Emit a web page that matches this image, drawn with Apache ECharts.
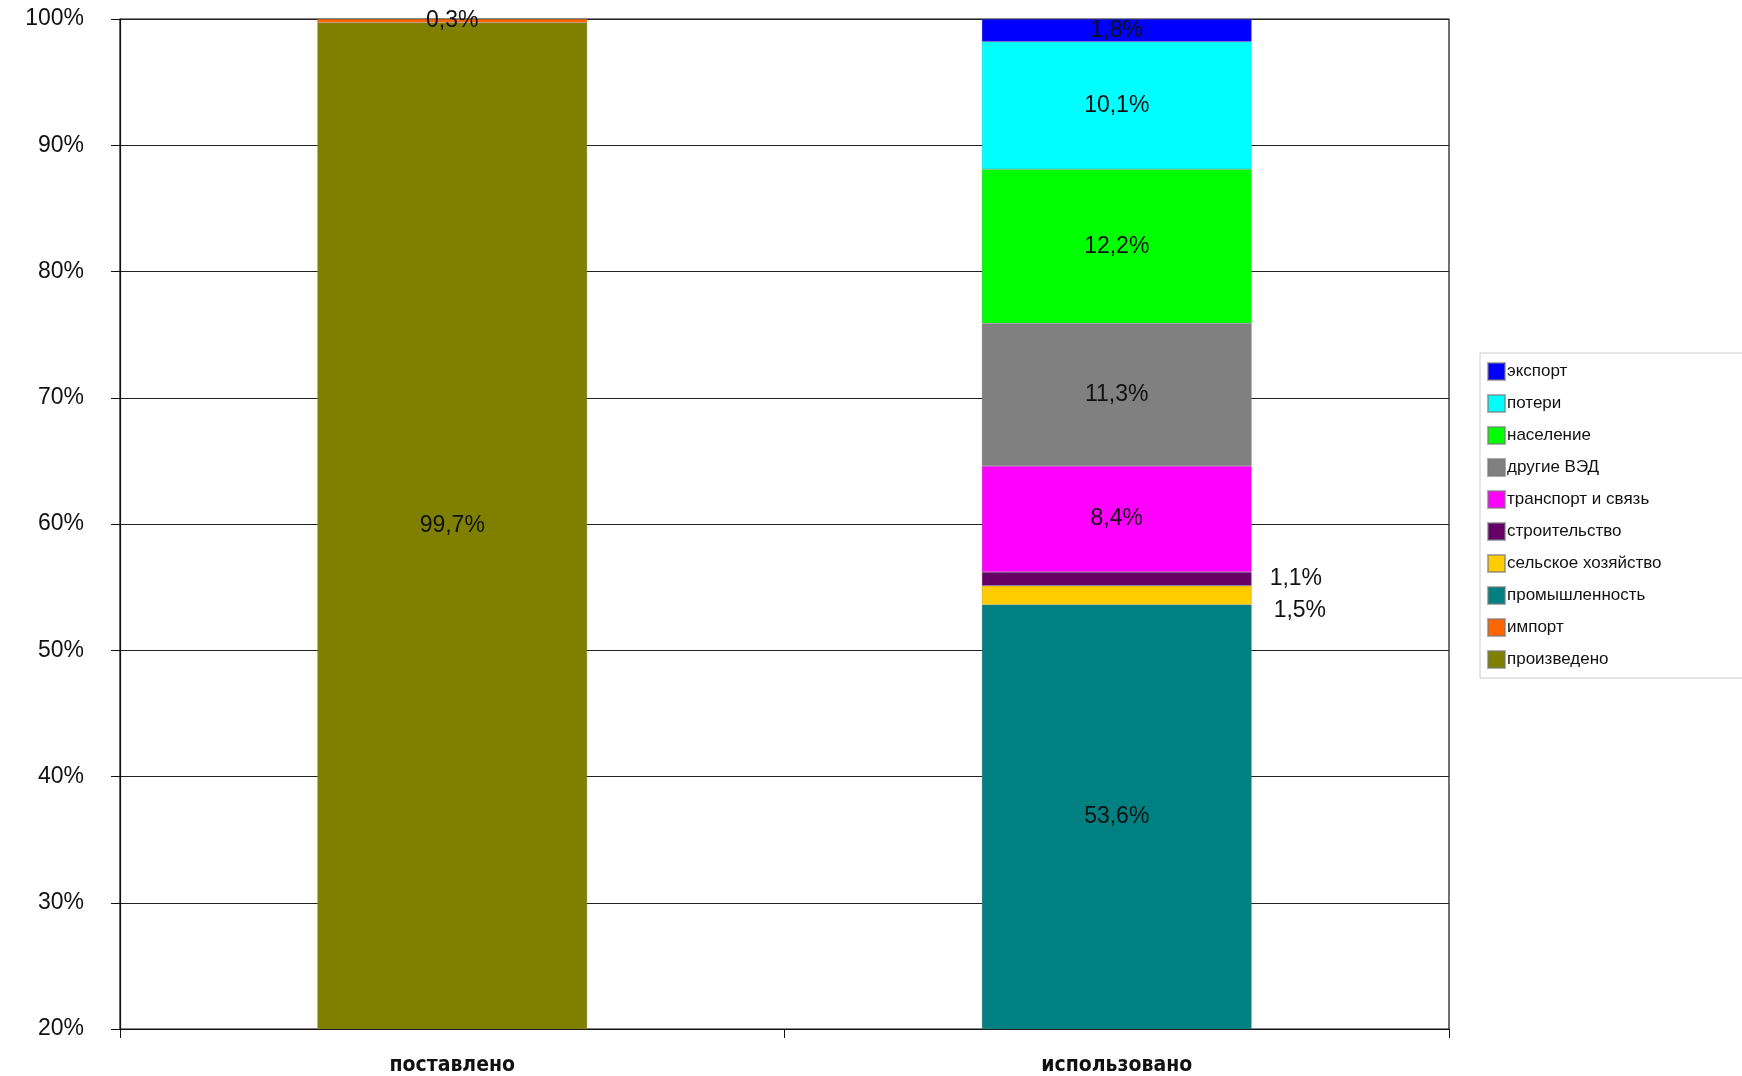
<!DOCTYPE html>
<html>
<head>
<meta charset="utf-8">
<script src="https://cdn.jsdelivr.net/npm/echarts@6/dist/echarts.min.js"></script>
<style>html,body{margin:0;padding:0;background:#fff}#c{width:1742px;height:1076px}</style>
</head>
<body>
<div id="c"></div>
<script>
const categories = ['поставлено', 'использовано'];
const yTicks = [20, 30, 40, 50, 60, 70, 80, 90, 100];

const produced     = [99.7, null];
const imported     = [0.3, null];
const industry     = [null, 53.6];
const agriculture  = [null, 1.5];
const construction = [null, 1.1];
const transport    = [null, 8.4];
const otherVED     = [null, 11.3];
const population   = [null, 12.2];
const losses       = [null, 10.1];
const exported     = [null, 1.8];

const legendOrder = ['экспорт', 'потери', 'население', 'другие ВЭД', 'транспорт и связь',
  'строительство', 'сельское хозяйство', 'промышленность', 'импорт', 'произведено'];

const FONT = "'Liberation Sans', Arial, sans-serif";
const fmt = p => (p.value == null ? '' : String(p.value).replace('.', ',') + '%');

function mk(name, data, color, labelExtra) {
  return {
    name: name, type: 'bar', stack: 'total', data: data,
    barWidth: '40.6%',
    itemStyle: { color: color, borderColor: 'rgba(120,120,120,0.6)', borderWidth: 0.5 },
    label: Object.assign({ show: true, position: 'inside', formatter: fmt,
      color: '#111', fontSize: 23, fontFamily: FONT }, labelExtra || {})
  };
}

const chart = echarts.init(document.getElementById('c'));
chart.setOption({
  animation: false,
  backgroundColor: '#fff',
  grid: { left: 120, right: 293, top: 19, bottom: 46, show: true, borderColor: '#111', borderWidth: 1.2 },
  legend: {
    orient: 'vertical', left: 1480, top: 353,
    data: legendOrder,
    itemWidth: 17, itemHeight: 17, itemGap: 13,
    padding: [9, 100, 9, 7],
    backgroundColor: '#fff', borderColor: '#ccc', borderWidth: 1,
    icon: 'rect',
    textStyle: { fontSize: 17, fontFamily: FONT, color: '#111', padding: [0, 0, 0, -3] }
  },
  xAxis: {
    type: 'category', data: categories,
    axisLine: { lineStyle: { color: '#111', width: 1.2 } },
    axisTick: { show: true, length: 9, lineStyle: { color: '#111' } },
    axisLabel: { margin: 26, fontSize: 21, fontWeight: 'bold', color: '#111',
      fontFamily: "'Liberation Sans Narrow', 'DejaVu Sans Condensed', sans-serif" }
  },
  yAxis: {
    type: 'value', min: 20, max: 100, interval: 10,
    axisLine: { show: true, lineStyle: { color: '#111', width: 1.2 } },
    axisTick: { show: true, length: 9, lineStyle: { color: '#111' } },
    splitLine: { show: true, lineStyle: { color: '#222', width: 1.2 } },
    axisLabel: { margin: 36, fontSize: 23, color: '#111', fontFamily: FONT,
      formatter: v => (yTicks.indexOf(v) >= 0 ? v + '%' : '') }
  },
  series: [
    mk('произведено', produced, '#808000'),
    mk('импорт', imported, '#FF6600'),
    mk('промышленность', industry, '#008080'),
    mk('сельское хозяйство', agriculture, '#FFCC00', { position: 'right', distance: 22, offset: [0, 15] }),
    mk('строительство', construction, '#660066', { position: 'right', distance: 18 }),
    mk('транспорт и связь', transport, '#FF00FF'),
    mk('другие ВЭД', otherVED, '#808080'),
    mk('население', population, '#00FF00'),
    mk('потери', losses, '#00FFFF'),
    mk('экспорт', exported, '#0000FF')
  ]
});
</script>
</body>
</html>
